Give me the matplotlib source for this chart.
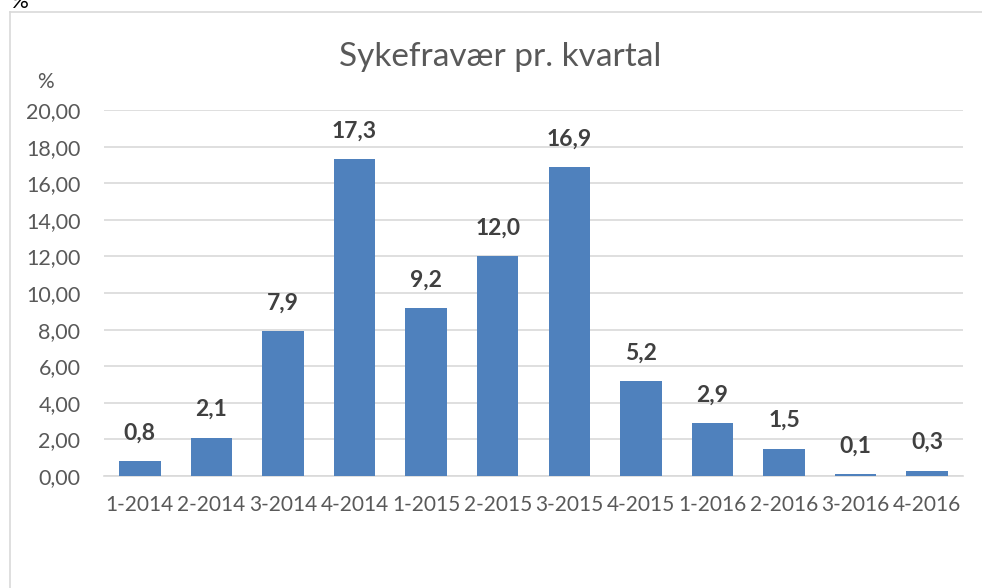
import matplotlib.pyplot as plt
from matplotlib.lines import Line2D

quarters = ["1-2014", "2-2014", "3-2014", "4-2014", "1-2015", "2-2015",
            "3-2015", "4-2015", "1-2016", "2-2016", "3-2016", "4-2016"]
absence = [0.8, 2.1, 7.9, 17.3, 9.2, 12.0, 16.9, 5.2, 2.9, 1.5, 0.1, 0.3]
yticks = [0, 2, 4, 6, 8, 10, 12, 14, 16, 18, 20]

plt.rcParams['font.family'] = ['Lato', 'DejaVu Sans']

W, H = 982, 588
fig = plt.figure(figsize=(W / 100, H / 100), dpi=100)
ax = fig.add_axes([104 / W, 1 - 476 / H, (963 - 104) / W, (476 - 110) / H])

x = range(len(quarters))
bars = ax.bar(x, absence, width=0.58, color='#4F81BD', zorder=3)

for xi, v in zip(x, absence):
    ax.text(xi, v + 0.95, f"{v:.1f}".replace('.', ','), ha='center', va='bottom',
            fontsize=16.5, fontweight='bold', color='#404040')

ax.set_xlim(-0.5, len(quarters) - 0.5)
ax.set_ylim(0, 20)
ax.set_yticks(yticks)
ax.set_yticklabels([f"{t:.2f}".replace('.', ',') for t in yticks])
ax.set_xticks(list(x))
ax.set_xticklabels(quarters)
ax.tick_params(axis='both', length=0, labelsize=15.5, labelcolor='#595959')
ax.tick_params(axis='x', labelsize=15)
ax.tick_params(axis='y', pad=17)
ax.tick_params(axis='x', pad=14)
ax.grid(axis='y', color='#D9D9D9', linewidth=1.2, zorder=0)
for s in ['top', 'right', 'left']:
    ax.spines[s].set_visible(False)
ax.spines['bottom'].set_color('#D9D9D9')
ax.spines['bottom'].set_linewidth(1.2)

fig.text(500 / W, 1 - 57 / H, "Sykefravær pr. kvartal", ha='center', va='center',
         fontsize=24, color='#595959')
fig.text(45 / W, 1 - 82 / H, "%", ha='center', va='center', fontsize=15, color='#595959')
# stray "%" partly cut at the top edge, as in the source image
fig.text(20 / W, 1 - 2 / H, "%", ha='center', va='center', fontsize=16, color='#000000')

# outer chart border
fig.add_artist(Line2D([9.5 / W, 9.5 / W], [0, 1 - 11.5 / H], color='#D9D9D9', lw=1.2))
fig.add_artist(Line2D([9.5 / W, 1], [1 - 11.5 / H, 1 - 11.5 / H], color='#D9D9D9', lw=1.2))

fig.savefig('out.png', dpi=100)
